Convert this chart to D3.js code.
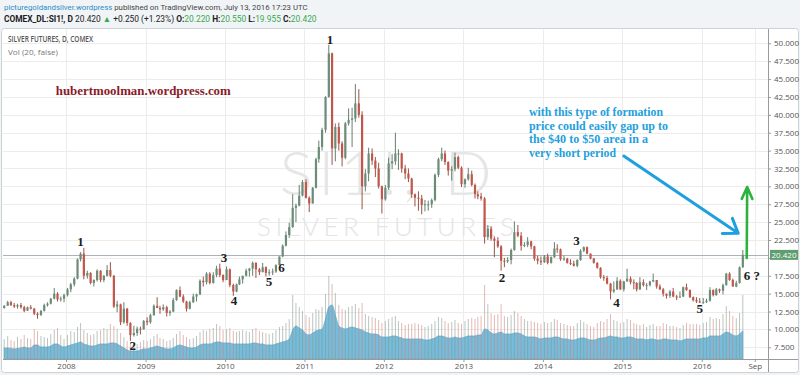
<!DOCTYPE html>
<html lang="en">
<head>
<meta charset="utf-8">
<title>Silver Futures, D, COMEX</title>
<script src="https://cdn.jsdelivr.net/npm/d3@7"></script>
<style>
body { margin: 0; background: #f1f4f7; }
svg { display: block; }
.axis text { font: 8px "Open Sans", sans-serif; fill: #555; }
.axis line { stroke: #9a9a9a; }
.axis path { display: none; }
.wave { font: bold 13px "Liberation Serif", serif; fill: #1c1c1c; text-anchor: middle; }
</style>
</head>
<body>
<svg width="800" height="375"></svg>
<script>

// half-month candles, first one starts 2007-03-16, last one is 2016-07-01
var opens = [
  13.0,13.3,13.8,13.4,13.2,13.4,13.1,12.6,13.1,12.9,12.2,12.0,12.6,13.4,13.6,14.3,15.0,14.2,14.3,
  14.8,15.6,16.3,17.1,19.8,20.6,17.5,17.9,16.5,16.9,18.2,16.9,17.5,18.3,17.5,13.2,13.5,11.0,12.9,10.9,9.2,9.5,10.1,10.0,
  11.2,11.0,12.0,13.3,13.0,12.8,13.1,12.3,12.5,14.1,15.5,14.6,13.9,12.9,13.8,14.6,14.9,16.8,16.6,17.8,16.5,17.6,18.5,17.6,
  16.9,18.4,16.2,15.3,16.3,17.0,17.5,18.2,18.5,19.3,18.4,18.0,18.7,17.9,18.0,18.1,19.0,20.2,21.7,23.2,24.3,27.0,27.3,28.7,
  30.6,28.4,27.6,29.8,33.8,35.5,37.9,42.5,48.6,35.3,38.3,36.0,34.0,38.8,39.3,39.5,41.6,40.0,30.0,31.8,34.6,33.6,32.5,30.0,
  28.2,29.8,33.2,33.5,34.6,34.6,32.5,31.8,31.1,28.9,28.4,28.3,27.4,27.5,27.5,28.1,31.6,33.8,34.6,33.4,32.2,32.4,34.1,32.6,
  30.3,31.0,31.7,30.2,28.9,28.6,28.3,22.9,24.1,22.7,22.4,21.6,19.6,19.5,19.7,21.1,23.6,23.1,21.7,21.8,22.3,21.6,19.9,19.6,
  19.4,20.2,19.3,20.1,21.3,21.2,19.8,19.9,19.3,19.2,18.9,19.7,21.0,21.5,20.6,19.9,19.3,18.6,17.3,17.2,16.4,15.3,15.6,16.8,
  15.6,16.7,17.1,16.6,16.5,15.6,16.6,16.2,16.2,16.7,16.9,16.0,15.6,15.0,14.7,15.3,14.6,14.5,14.6,15.9,15.5,14.5,14.1,13.9,
  13.8,13.8,14.0,15.5,14.8,15.6,15.4,16.2,17.8,16.9,16.0,16.5,18.7
];
var highs = [
  13.4,14.0,14.0,13.7,13.6,13.7,13.3,13.2,13.4,13.0,12.4,12.7,13.6,13.8,14.4,15.8,15.2,14.6,15.0,
  15.8,16.5,17.3,19.9,20.8,21.4,18.2,18.0,17.0,18.4,18.3,17.6,19.0,19.4,17.6,14.0,13.6,13.8,13.0,11.0,10.5,10.4,10.4,11.3,
  11.7,12.2,13.5,14.5,13.3,13.5,13.3,12.7,14.4,15.6,16.0,14.9,14.0,14.0,15.0,15.0,17.0,17.4,18.0,18.0,18.0,18.9,19.2,17.7,
  18.8,18.5,16.4,16.4,17.4,17.5,18.5,18.6,19.5,19.4,18.6,19.3,18.8,18.4,18.5,19.1,20.2,21.9,23.7,24.9,28.9,27.6,30.2,30.9,
  31.0,28.6,29.9,34.0,36.4,38.2,42.6,49.8,48.7,38.8,38.9,36.3,39.0,40.9,41.0,44.3,43.6,40.5,32.4,35.4,35.3,34.1,33.3,30.1,
  30.2,34.0,34.5,37.5,35.2,34.7,33.0,32.5,31.2,29.0,29.3,28.8,28.1,28.0,28.3,31.8,34.0,35.4,35.0,33.5,32.8,34.7,34.3,32.8,
  31.1,32.6,32.2,30.4,29.3,29.1,28.5,24.6,24.4,23.0,22.9,21.8,20.0,20.1,21.3,25.1,24.6,23.6,22.2,22.9,22.4,21.7,20.3,20.2,
  20.4,20.6,20.2,22.2,21.9,21.3,20.3,20.0,19.8,19.6,19.8,21.2,21.6,21.6,20.6,20.0,19.4,18.7,17.6,17.5,16.5,16.7,17.3,17.0,
  16.8,18.5,17.4,17.0,16.6,17.3,17.0,16.5,16.8,17.8,16.9,16.3,15.8,15.0,15.5,15.8,14.8,15.3,16.0,16.4,15.6,14.6,14.5,14.4,
  14.4,14.3,15.9,15.6,15.8,15.7,16.4,17.9,18.0,17.1,16.8,18.8,21.1
];
var lows = [
  12.9,13.3,13.3,13.0,12.9,12.9,12.4,12.6,12.8,12.0,11.5,11.9,12.5,13.2,13.5,14.2,13.9,13.9,13.8,
  14.6,15.2,16.0,17.0,19.5,17.0,17.1,16.3,16.0,16.7,16.6,16.6,17.4,17.3,13.0,12.4,10.6,10.8,10.5,8.4,9.0,9.1,9.3,10.0,
  10.6,10.8,11.9,13.0,12.2,12.6,11.8,11.9,12.4,14.0,14.5,13.7,12.5,12.8,13.7,13.9,14.8,16.0,16.3,16.3,16.4,17.3,17.3,16.6,
  16.9,15.9,14.7,15.2,16.2,16.4,17.4,17.4,17.5,17.2,17.6,18.0,17.4,17.5,17.6,17.9,19.0,20.1,21.6,22.8,24.2,25.0,27.2,28.6,
  28.3,26.4,27.6,29.7,33.3,35.0,37.5,42.4,33.0,33.5,35.0,32.8,33.8,38.5,35.5,39.0,39.6,26.8,29.3,30.7,33.0,31.3,29.7,26.2,
  28.0,29.5,32.4,33.0,32.3,31.9,31.0,30.6,28.4,27.2,26.6,26.1,26.5,26.6,27.0,27.9,31.3,33.5,33.0,31.5,30.8,32.1,32.4,29.9,
  29.8,30.8,30.0,28.3,28.2,28.0,22.0,22.5,22.4,20.1,21.4,18.2,18.7,19.3,19.1,21.0,22.9,21.0,21.5,21.5,21.2,19.6,19.1,19.0,
  19.3,19.1,19.2,20.0,20.7,19.6,19.6,19.2,19.0,18.8,18.7,19.6,20.8,20.5,19.8,19.2,18.5,17.1,16.8,16.3,14.2,15.1,15.5,15.5,
  15.3,16.7,16.3,15.6,15.3,15.5,16.0,15.5,16.0,16.6,15.7,15.5,14.6,14.3,14.4,14.5,14.1,14.4,14.5,15.4,14.4,13.9,13.7,13.7,
  13.6,13.7,13.9,14.6,14.7,15.1,14.9,16.1,16.8,16.0,15.9,16.4,18.6
];
var closes = [
  13.3,13.8,13.4,13.2,13.4,13.1,12.6,13.1,12.9,12.2,12.0,12.6,13.4,13.6,14.3,15.0,14.2,14.3,14.8,
  15.6,16.3,17.1,19.8,20.6,17.5,17.9,16.5,16.9,18.2,16.9,17.5,18.3,17.5,13.2,13.5,11.0,12.9,10.9,9.2,9.5,10.1,10.0,11.2,
  11.0,12.0,13.3,13.0,12.8,13.1,12.3,12.5,14.1,15.5,14.6,13.9,12.9,13.8,14.6,14.9,16.8,16.6,17.8,16.5,17.6,18.5,17.6,16.9,
  18.4,16.2,15.3,16.3,17.0,17.5,18.2,18.5,19.3,18.4,18.0,18.7,17.9,18.0,18.1,19.0,20.2,21.7,23.2,24.3,27.0,27.3,28.7,30.6,
  28.4,27.6,29.8,33.8,35.5,37.9,42.5,48.6,35.3,38.3,36.0,34.0,38.8,39.3,39.5,41.6,40.0,30.0,31.8,34.6,33.6,32.5,30.0,28.2,
  29.8,33.2,33.5,34.6,34.6,32.5,31.8,31.1,28.9,28.4,28.3,27.4,27.5,27.5,28.1,31.6,33.8,34.6,33.4,32.2,32.4,34.1,32.6,30.3,
  31.0,31.7,30.2,28.9,28.6,28.3,22.9,24.1,22.7,22.4,21.6,19.6,19.5,19.7,21.1,23.6,23.1,21.7,21.8,22.3,21.6,19.9,19.6,19.4,
  20.2,19.3,20.1,21.3,21.2,19.8,19.9,19.3,19.2,18.9,19.7,21.0,21.5,20.6,19.9,19.3,18.6,17.3,17.2,16.4,15.3,15.6,16.8,15.6,
  16.7,17.1,16.6,16.5,15.6,16.6,16.2,16.2,16.7,16.9,16.0,15.6,15.0,14.7,15.3,14.6,14.5,14.6,15.9,15.5,14.5,14.1,13.9,13.8,
  13.8,14.0,15.5,14.8,15.6,15.4,16.2,17.8,16.9,16.0,16.5,18.7,20.42
];
// volume, thousand contracts: 20-day average level and biggest day in each half month
var volAvg = [
  22,22,21,20,21,22,24,22,22,28,28,24,24,24,26,30,30,26,24,
  26,28,30,32,34,30,28,26,26,28,30,30,30,32,32,30,26,22,18,16,16,16,18,20,
  20,22,24,26,24,22,20,20,22,26,28,26,24,22,22,24,28,30,30,30,32,34,34,32,
  32,32,30,30,30,30,30,30,32,32,30,30,28,28,28,30,32,34,36,40,58,66,62,58,
  50,48,52,56,58,60,80,104,108,88,66,62,60,62,64,62,60,58,54,52,50,50,48,44,
  44,44,46,46,44,42,40,40,40,40,40,40,38,38,40,42,46,46,44,42,42,44,42,42,
  44,46,46,46,48,48,60,58,52,50,52,54,50,50,50,52,52,50,46,44,44,44,42,40,
  42,42,42,44,44,42,40,40,38,38,40,42,42,40,38,38,40,42,42,44,46,44,44,42,
  42,44,44,42,40,40,40,38,40,40,38,38,40,40,38,38,38,36,38,40,40,40,40,40,
  42,42,46,46,46,46,50,54,52,48,46,50,56
];
var volMax = [
  40,46,38,36,44,40,48,42,40,60,56,46,44,42,50,58,62,48,40,
  48,56,54,64,72,58,52,48,50,56,58,62,60,70,66,60,52,44,36,30,32,30,34,38,
  36,40,46,50,42,40,36,38,42,50,56,48,44,40,42,46,54,58,56,60,62,70,66,58,
  60,62,56,54,56,58,56,54,60,62,56,54,52,50,52,58,64,66,72,80,128,112,104,96,
  88,84,92,100,98,104,130,166,150,132,108,100,98,104,106,110,102,112,90,86,84,82,78,72,
  76,80,84,86,76,72,68,70,70,72,70,68,64,66,70,76,84,82,76,72,74,78,72,70,
  76,80,82,80,84,86,148,110,92,88,90,110,86,84,88,96,92,86,80,76,76,74,72,70,
  74,72,74,80,78,72,70,68,66,66,72,78,74,70,66,64,72,76,74,80,90,78,76,72,
  74,80,78,72,70,68,70,64,68,70,66,66,72,70,66,66,64,62,68,72,70,70,70,68,
  72,74,84,80,82,80,90,106,96,86,82,92,128
];

var priceTicks = [7.5,10,12.5,15,17.5,20,22.5,25,27.5,30,32.5,35,37.5,40,42.5,45,47.5,50];
var timeTicks = ["2008-01-01","2009-01-01","2010-01-01","2011-01-01","2012-01-01","2013-01-01","2014-01-01","2015-01-01","2016-01-01","2016-09-01"];

// wave counts written on the chart
var waveText   = ["1","2","3","4","5","6","1","2","3","4","5","6 ?"];
var waveDates  = ["2008-03-08","2008-11-03","2009-12-27","2010-02-11","2010-07-22","2010-09-18",
                  "2011-04-28","2013-06-27","2014-06-05","2014-12-05","2015-12-23","2016-08-19"];
var wavePrices = [22.3,7.7,20.1,14.0,16.7,18.6,50.6,17.2,22.4,13.7,12.9,17.6];

var noteLines = ["with this type of formation","price could easily gap up to","the $40 to $50 area in a","very short period"];

// header lines: text, colour, bold
var green = "#3aa84e";
var headerTop = [
  ["picturegoldandsilver.wordpress", "#2d8cc4", false],
  [" published on TradingView.com, July 13, 2016 17:23 UTC", "#444", false]
];
var headerBits = [
  ["COMEX_DL:SI1!, D ", "#222", true],
  [" 20.420 ", "#222", false],
  ["\u25B2", green, false],
  [" +0.250 (+1.23%) ", "#222", false],
  ["O:", "#222", true], ["20.220 ", green, false],
  ["H:", "#222", true], ["20.550 ", green, false],
  ["L:", "#222", true], ["19.955 ", green, false],
  ["C:", "#222", true], ["20.420", green, false]
];

var parse = d3.timeParse("%Y-%m-%d");
var svg = d3.select("svg");

var pane = {left: 3, right: 768, top: 29, bottom: 359};

var x = d3.scaleTime()
    .domain([parse("2008-01-01"), parse("2016-01-01")])
    .range([66, 701.7]);
var y = d3.scaleLinear().domain([7.5, 50]).range([347.3, 43.3]);
var vy = d3.scaleLinear().domain([0, 200]).range([pane.bottom, pane.bottom - 100]);

// each candle sits a week into its half month
var candleDates = closes.map(function(c, i) {
  var h = i + 5;
  return new Date(2007, Math.floor(h / 2), (h % 2 ? 16 : 1) + 7);
});

// frame
svg.append("rect").attr("x", 1.5).attr("y", 28.5).attr("width", 797).attr("height", 344)
    .attr("rx", 3).attr("fill", "#fff").attr("stroke", "#cdd2d6");

svg.append("defs").append("clipPath").attr("id", "clip")
  .append("rect").attr("x", pane.left).attr("y", pane.top)
    .attr("width", pane.right - pane.left).attr("height", pane.bottom - pane.top);

var grid = svg.append("g").attr("clip-path", "url(#clip)");
grid.selectAll(".h").data(priceTicks).enter().append("line")
    .attr("x1", pane.left).attr("x2", pane.right)
    .attr("y1", function(d) { return Math.round(y(d)) + 0.5; })
    .attr("y2", function(d) { return Math.round(y(d)) + 0.5; })
    .attr("stroke", "#ececec");
grid.selectAll(".v").data(timeTicks).enter().append("line")
    .attr("y1", pane.top).attr("y2", pane.bottom)
    .attr("x1", function(d) { return Math.round(x(parse(d))) + 0.5; })
    .attr("x2", function(d) { return Math.round(x(parse(d))) + 0.5; })
    .attr("stroke", "#ececec");

// watermark
var mid = (pane.left + pane.right) / 2;
svg.append("text").attr("x", mid).attr("y", 195).attr("text-anchor", "middle")
    .attr("textLength", 212).attr("lengthAdjust", "spacing")
    .style("font", "300 62px Lato, sans-serif").attr("fill", "#e6e6e6")
    .text("SI1!, D");
svg.append("text").attr("x", mid).attr("y", 236).attr("text-anchor", "middle")
    .attr("textLength", 257).attr("lengthAdjust", "spacing")
    .style("font", "300 26px Lato, sans-serif").attr("fill", "#e4e4e4")
    .text("SILVER FUTURES");

var plot = svg.append("g").attr("clip-path", "url(#clip)");

// last price line
var lastClose = closes[closes.length - 1];
plot.append("line")
    .attr("x1", pane.left).attr("x2", pane.right)
    .attr("y1", Math.round(y(lastClose)) + 0.5).attr("y2", Math.round(y(lastClose)) + 0.5)
    .attr("stroke", "#a9b3b9");

// volume
var area = d3.area()
    .x(function(d, i) { return x(candleDates[i]); })
    .y0(vy(0))
    .y1(function(d) { return vy(d); })
    .curve(d3.curveMonotoneX);
plot.append("path").datum(volAvg).attr("d", area)
    .attr("fill", "#76bddd").attr("stroke", "#5fb0d6").attr("stroke-width", 0.8);

plot.selectAll(".vbar").data(volMax).enter().append("line")
    .attr("x1", function(d, i) { return x(candleDates[i]); })
    .attr("x2", function(d, i) { return x(candleDates[i]); })
    .attr("y1", vy(0))
    .attr("y2", function(d) { return vy(d); })
    .attr("stroke", function(d, i) { return closes[i] >= opens[i] ? "rgba(130,150,140,0.55)" : "rgba(200,130,120,0.55)"; })
    .attr("stroke-width", 1);

// candles
var bodyW = 2.2;
var candle = plot.selectAll(".candle").data(closes).enter().append("g");
candle.append("line")
    .attr("x1", function(d, i) { return x(candleDates[i]); })
    .attr("x2", function(d, i) { return x(candleDates[i]); })
    .attr("y1", function(d, i) { return y(highs[i]); })
    .attr("y2", function(d, i) { return y(lows[i]); })
    .attr("stroke", function(d, i) { return d >= opens[i] ? "#56705f" : "#8c3f36"; })
    .attr("stroke-width", 0.9);
candle.append("rect")
    .attr("x", function(d, i) { return x(candleDates[i]) - bodyW / 2; })
    .attr("width", bodyW)
    .attr("y", function(d, i) { return y(Math.max(d, opens[i])); })
    .attr("height", function(d, i) { return Math.max(1, Math.abs(y(d) - y(opens[i]))); })
    .attr("fill", function(d, i) { return d >= opens[i] ? "#6c8c79" : "#c0574a"; });

// pane borders
svg.append("line").attr("x1", pane.left).attr("x2", pane.right + 30)
    .attr("y1", pane.bottom + 0.5).attr("y2", pane.bottom + 0.5).attr("stroke", "#9a9a9a");
svg.append("line").attr("x1", pane.right + 0.5).attr("x2", pane.right + 0.5)
    .attr("y1", pane.top).attr("y2", pane.bottom + 13).attr("stroke", "#9a9a9a");

// axes
var yAxis = svg.append("g").attr("class", "axis")
    .attr("transform", "translate(" + pane.right + ",0)")
    .call(d3.axisRight(y).tickValues(priceTicks).tickSize(3).tickPadding(3).tickFormat(d3.format(".3f")));
// the last price tag covers the nearest label
yAxis.selectAll(".tick").filter(function(d) { return Math.abs(y(d) - y(lastClose)) < 9; })
    .select("text").remove();

svg.append("g").attr("class", "axis")
    .attr("transform", "translate(0," + pane.bottom + ")")
    .call(d3.axisBottom(x).tickValues(timeTicks.map(parse)).tickSize(3).tickPadding(1)
      .tickFormat(function(d) { return d.getMonth() === 0 ? d3.timeFormat("%Y")(d) : d3.timeFormat("%b")(d); }));

// last price tag
var tagY = y(lastClose);
svg.append("rect").attr("x", pane.right + 2).attr("y", tagY - 5).attr("width", 28).attr("height", 10)
    .attr("fill", "#5f9e6f");
svg.append("text").attr("x", pane.right + 16).attr("y", tagY + 3).attr("text-anchor", "middle")
    .style("font", "8px 'Open Sans', sans-serif").attr("fill", "#fff")
    .text(d3.format(".3f")(lastClose));

// header
function headerLine(bits, top, size) {
  svg.append("text").attr("x", 4).attr("y", top)
      .style("font", size + "px Roboto, sans-serif")
    .selectAll("tspan").data(bits).enter().append("tspan")
      .attr("fill", function(d) { return d[1]; })
      .attr("font-weight", function(d) { return d[2] ? "bold" : null; })
      .text(function(d) { return d[0]; });
}
headerLine(headerTop, 10, 7.8);
headerLine(headerBits, 22, 8.4);

svg.append("text").attr("x", 8).attr("y", 42)
    .attr("textLength", 85).attr("lengthAdjust", "spacingAndGlyphs")
    .style("font", "600 8px 'Open Sans', sans-serif").attr("fill", "#555")
    .text("SILVER FUTURES, D, COMEX");
svg.append("text").attr("x", 8).attr("y", 55)
    .attr("textLength", 50).attr("lengthAdjust", "spacingAndGlyphs")
    .style("font", "8px 'Open Sans', sans-serif").attr("fill", "#777")
    .text("Vol (20, false)");

// annotations
svg.append("text").attr("x", x(parse("2007-11-15"))).attr("y", y(42.8))
    .attr("textLength", 175).attr("lengthAdjust", "spacingAndGlyphs")
    .style("font", "bold 13px 'Liberation Serif', serif").attr("fill", "#8b1a28")
    .text("hubertmoolman.wordpress.com");

var noteWidths = [134, 139, 119, 87];
svg.selectAll(".note").data(noteLines).enter().append("text")
    .attr("x", x(parse("2013-10-29")))
    .attr("y", function(d, i) { return y(39.8) + i * 13.5; })
    .attr("textLength", function(d, i) { return noteWidths[i]; })
    .attr("lengthAdjust", "spacingAndGlyphs")
    .style("font", "bold 12px 'Liberation Serif', serif").attr("fill", "#24a0dc")
    .text(function(d) { return d; });

svg.selectAll(".wave").data(waveText).enter().append("text")
    .attr("class", "wave")
    .attr("x", function(d, i) { return x(parse(waveDates[i])); })
    .attr("y", function(d, i) { return y(wavePrices[i]) + 4.5; })
    .text(function(d) { return d; });

function arrow(x1, y1, x2, y2, color, width, len, spread) {
  var a = Math.atan2(y1 - y2, x1 - x2);
  var path = "M" + x1 + "," + y1 + "L" + x2 + "," + y2 +
      "M" + (x2 + len * Math.cos(a - spread)) + "," + (y2 + len * Math.sin(a - spread)) +
      "L" + x2 + "," + y2 +
      "L" + (x2 + len * Math.cos(a + spread)) + "," + (y2 + len * Math.sin(a + spread));
  svg.append("path").attr("d", path).attr("fill", "none").attr("stroke", color)
      .attr("stroke-width", width).attr("stroke-linecap", "round").attr("stroke-linejoin", "round");
}
arrow(x(parse("2015-01-08")), y(34.24), x(parse("2016-06-17")), y(23.44), "#1e9fe0", 3, 16, 0.6);
arrow(x(parse("2016-07-26")), y(20.0), x(parse("2016-07-28")), y(29.9), "#2db23c", 2.6, 13, 0.42);

</script>
</body>
</html>
